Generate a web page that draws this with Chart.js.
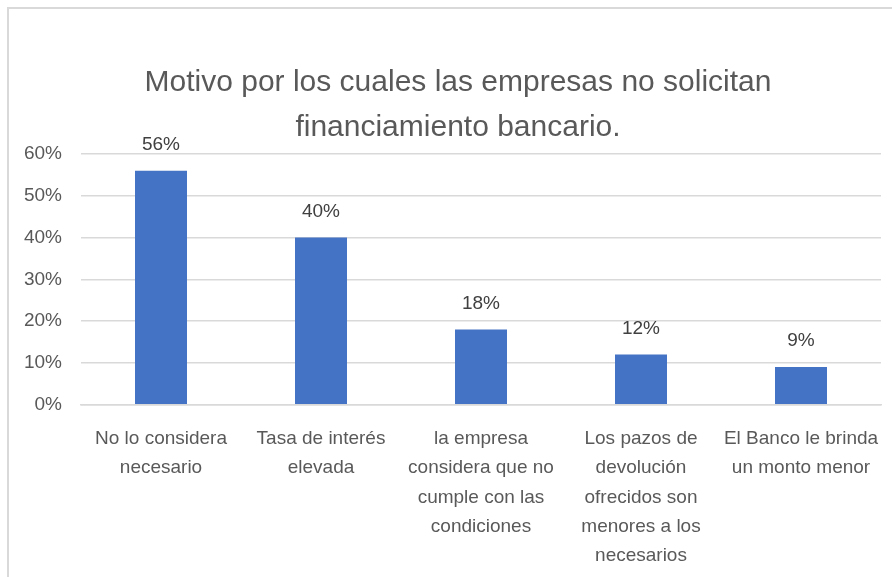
<!DOCTYPE html>
<html>
<head>
<meta charset="utf-8">
<script src="https://cdn.jsdelivr.net/npm/chart.js@4.4.0/dist/chart.umd.min.js"></script>
<style>
  html, body { margin: 0; padding: 0; background: #fff; overflow: hidden; }
  #box { position: absolute; left: 7px; top: 7px; width: 900px; height: 595px;
         border-left: 2px solid #d9d9d9; border-top: 2px solid #d9d9d9; }
  canvas { display: block; }
</style>
</head>
<body>
<div id="box"><canvas id="chart" width="900" height="581"></canvas></div>
<script>
var titleLines = ["Motivo por los cuales las empresas no solicitan", "financiamiento bancario."];

var categories = [
    ["No lo considera", "necesario"],
    ["Tasa de interés", "elevada"],
    ["la empresa", "considera que no", "cumple con las", "condiciones"],
    ["Los pazos de", "devolución", "ofrecidos son", "menores a los", "necesarios"],
    ["El Banco le brinda", "un monto menor"]
];

var values = [0.56, 0.40, 0.18, 0.12, 0.09];

var yMax = 0.6;
var yStep = 0.1;

var fontFamily = "'Liberation Sans', Arial, sans-serif";
var textColor = '#595959';

function pct(v) {
    return Math.round(v * 100) + '%';
}

// etiquetas de datos encima de cada barra
var barLabels = {
    id: 'barLabels',
    afterLayout: function(chart) {
        // el título está un poco a la derecha en el original
        if (chart.titleBlock) chart.titleBlock.left += 26;
    },
    afterDatasetsDraw: function(chart) {
        var c = chart.ctx;
        var meta = chart.getDatasetMeta(0);
        c.save();
        c.font = '19px ' + fontFamily;
        c.fillStyle = '#404040';
        c.textAlign = 'center';
        c.textBaseline = 'middle';
        meta.data.forEach(function(bar, i) {
            c.fillText(pct(values[i]), bar.x, bar.y - 26);
        });
        c.restore();
    }
};

var ctx = document.getElementById('chart');

var chartGraph = new Chart(ctx, {
    type: 'bar',
    data: {
        labels: categories,
        datasets: [{
            data: values,
            backgroundColor: '#4472C4',
            borderWidth: 0,
            barPercentage: 0.65,
            categoryPercentage: 0.5
        }]
    },
    options: {
        responsive: false,
        animation: false,
        layout: { padding: { top: 51, right: 28, left: 0, bottom: 0 } },
        plugins: {
            legend: { display: false },
            tooltip: { enabled: false },
            title: {
                display: true,
                text: titleLines,
                color: textColor,
                font: { family: fontFamily, size: 30, weight: 'normal', lineHeight: 1.5 },
                padding: { top: 0, bottom: 4 }
            }
        },
        scales: {
            y: {
                min: 0,
                max: yMax,
                ticks: {
                    stepSize: yStep,
                    color: textColor,
                    padding: 19,
                    font: { family: fontFamily, size: 19 },
                    callback: function(v) { return pct(v); }
                },
                grid: { color: '#d9d9d9', lineWidth: 1.5, drawTicks: false },
                border: { display: false },
                afterFit: function(scale) { scale.width = 72; }
            },
            x: {
                ticks: {
                    color: textColor,
                    padding: 20,
                    maxRotation: 0,
                    autoSkip: false,
                    font: { family: fontFamily, size: 19, lineHeight: 1.53 }
                },
                grid: { display: false, drawTicks: false },
                border: { color: '#d9d9d9', width: 1.5 }
            }
        }
    },
    plugins: [barLabels]
});
</script>
</body>
</html>
